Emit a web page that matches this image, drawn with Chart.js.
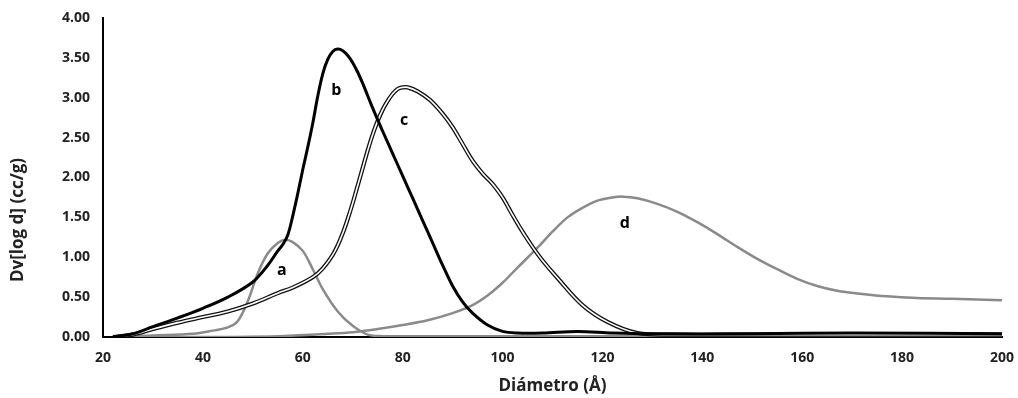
<!DOCTYPE html>
<html>
<head>
<meta charset="utf-8">
<script src="https://cdn.jsdelivr.net/npm/chart.js@4"></script>
<style>
  html, body { margin: 0; padding: 0; background: #fff; }
  #wrap { width: 1018px; height: 398px; }
</style>
</head>
<body>
<div id="wrap"><canvas id="poreChart"></canvas></div>
<script>
// sample a
const xA = [22, 30, 38, 42, 45, 47, 49, 51, 53, 55, 56.5, 58, 60, 62, 64, 67, 70, 73, 76, 80, 100, 140, 200];
const yA = [0, 0.02, 0.04, 0.08, 0.12, 0.2, 0.45, 0.8, 1.05, 1.18, 1.22, 1.19, 1.08, 0.85, 0.6, 0.32, 0.14, 0.03, 0.01, 0.01, 0.01, 0.01, 0.01];

// sample b
const xB = [22, 26, 30, 35, 40, 45, 50, 53, 55, 56, 57, 58, 59, 60, 61, 62, 63, 64, 65, 66, 67, 68, 69, 70, 71, 72, 74, 76, 78, 80, 82, 84, 86, 88, 90, 92, 94, 97, 100, 103, 108, 115, 122, 130, 150, 170, 200];
const yB = [0, 0.04, 0.13, 0.24, 0.36, 0.5, 0.69, 0.9, 1.08, 1.16, 1.28, 1.52, 1.8, 2.1, 2.38, 2.68, 3.02, 3.3, 3.48, 3.58, 3.61, 3.59, 3.53, 3.44, 3.32, 3.18, 2.87, 2.58, 2.3, 2.02, 1.74, 1.46, 1.18, 0.9, 0.64, 0.44, 0.3, 0.15, 0.07, 0.05, 0.05, 0.07, 0.05, 0.04, 0.04, 0.05, 0.04];

// sample c
const xC = [22, 26, 30, 35, 40, 45, 50, 55, 58, 62, 64, 66, 67, 68, 69, 70, 71, 72, 73, 74, 75, 76, 77, 78, 79, 80, 81, 83, 85.5, 88, 90, 92, 94, 96, 98, 100, 102, 104, 106, 108, 111, 116, 121, 127, 135, 150, 170, 200];
const yC = [0, 0.03, 0.1, 0.18, 0.25, 0.32, 0.42, 0.55, 0.62, 0.75, 0.86, 1.03, 1.15, 1.3, 1.48, 1.68, 1.9, 2.12, 2.34, 2.54, 2.71, 2.85, 2.96, 3.05, 3.11, 3.13, 3.13, 3.08, 2.97, 2.8, 2.63, 2.42, 2.21, 2.05, 1.92, 1.75, 1.53, 1.32, 1.13, 0.96, 0.74, 0.4, 0.19, 0.05, 0.03, 0.03, 0.03, 0.03];

// sample d
const xD = [22, 40, 55, 65, 70, 75, 80, 85, 90, 94, 97, 100, 103, 107, 110, 113, 116, 119, 122, 124, 127, 131, 135, 139, 143, 147, 151, 155, 159, 163, 167, 172, 177, 183, 190, 200];
const yD = [0, 0, 0.01, 0.04, 0.06, 0.1, 0.15, 0.21, 0.3, 0.4, 0.52, 0.68, 0.87, 1.12, 1.32, 1.5, 1.62, 1.71, 1.75, 1.76, 1.74, 1.67, 1.57, 1.44, 1.29, 1.13, 0.98, 0.85, 0.73, 0.64, 0.58, 0.54, 0.51, 0.49, 0.48, 0.46];

// curve labels
const labelText = ['a', 'b', 'c', 'd'];
const labelX = [55.8, 66.7, 80.3, 124.5];
const labelY = [0.84, 3.09, 2.71, 1.43];

const yTitle = 'Dv[log d] (cc/g)';

const pts = (xs, ys) => xs.map((x, i) => ({ x: x, y: ys[i] }));

function line(data, color, width) {
    return {
        data: data,
        borderColor: color,
        borderWidth: width,
        pointRadius: 0,
        fill: false,
        tension: 0.35
    };
}

const extraText = {
    id: 'extraText',
    afterDatasetsDraw(chart) {
        const ctx = chart.ctx;
        const xs = chart.scales.x, ys = chart.scales.y;
        ctx.save();
        ctx.font = 'bold 16px "Open Sans"';
        ctx.fillStyle = '#000';
        ctx.textAlign = 'center';
        ctx.textBaseline = 'middle';
        labelText.forEach((t, i) => {
            ctx.fillText(t, xs.getPixelForValue(labelX[i]), ys.getPixelForValue(labelY[i]));
        });
        // y axis title, sits a bit below the middle like the original
        ctx.translate(18, 220);
        ctx.rotate(-Math.PI / 2);
        ctx.font = 'bold 17px "Open Sans"';
        ctx.fillStyle = '#222';
        ctx.fillText(yTitle, 0, 0);
        ctx.restore();
    }
};

const tickFont = { family: 'Open Sans', size: 14, weight: 'bold' };

new Chart(document.getElementById('poreChart').getContext('2d'), {
    type: 'line',
    data: {
        // first dataset is painted on top
        datasets: [
            line(pts(xB, yB), '#000', 3),
            line(pts(xC, yC), '#fff', 1.6),
            line(pts(xC, yC), '#111', 4.2),
            line(pts(xA, yA), '#8a8a8a', 2.5),
            line(pts(xD, yD), '#8a8a8a', 2.5)
        ]
    },
    options: {
        responsive: true,
        maintainAspectRatio: false,
        animation: false,
        layout: { padding: { top: 18, right: 16, bottom: 0, left: 0 } },
        scales: {
            x: {
                type: 'linear',
                min: 20, max: 200,
                grid: { display: false, drawTicks: true, tickLength: 5, tickColor: '#000' },
                border: { color: '#000', width: 2 },
                ticks: { stepSize: 20, color: '#222', font: tickFont, padding: 8 },
                title: { display: true, text: 'Diámetro (Å)', color: '#222', font: { family: 'Open Sans', size: 17, weight: 'bold' }, padding: { top: 0, bottom: 2 } },
                afterFit: s => { s.height = 61; s.paddingRight = 0; s.paddingLeft = 0; }
            },
            y: {
                min: 0, max: 4,
                grid: { display: false, drawTicks: true, tickLength: 5, tickColor: '#000' },
                border: { color: '#000', width: 2 },
                ticks: { stepSize: 0.5, color: '#222', font: tickFont, padding: 8, callback: v => v.toFixed(2) },
                afterFit: s => { s.width = 103; s.paddingTop = 0; s.paddingBottom = 0; }
            }
        },
        plugins: { legend: { display: false }, tooltip: { enabled: false } }
    },
    plugins: [extraText]
});
</script>
</body>
</html>
